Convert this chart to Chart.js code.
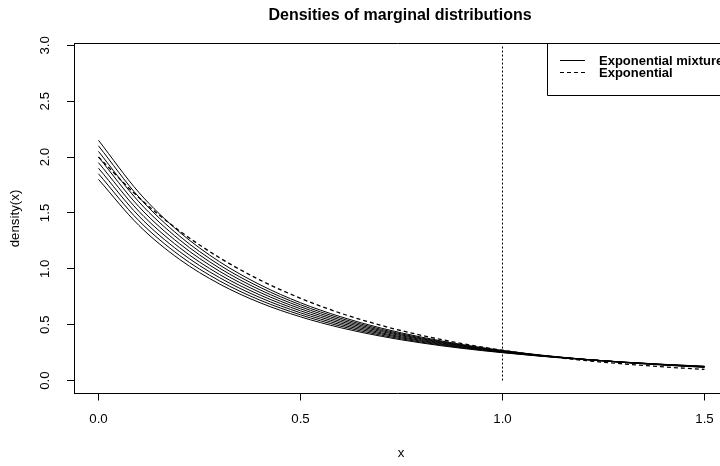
<!DOCTYPE html>
<html>
<head>
<meta charset="utf-8">
<script src="https://cdn.jsdelivr.net/npm/chart.js@4.4.0/dist/chart.umd.min.js"></script>
<style>
html,body{margin:0;padding:0;overflow:hidden;background:#fff;}
#wrap{width:720px;height:466px;position:relative;}
</style>
</head>
<body>
<div id="wrap"><canvas id="c" width="720" height="466"></canvas></div>
<script>
// ---- data ----
const xValues = [0, 0.1, 0.2, 0.3, 0.4, 0.5, 0.6, 0.7, 0.8, 0.9, 1.0, 1.1, 1.2, 1.3, 1.4, 1.5];
const mixture1 = [2.15, 1.683, 1.330, 1.062, 0.857, 0.696, 0.570, 0.469, 0.388, 0.322, 0.269, 0.226, 0.191, 0.162, 0.138, 0.118];
const mixture2 = [2.10, 1.641, 1.295, 1.033, 0.834, 0.678, 0.556, 0.458, 0.380, 0.317, 0.266, 0.224, 0.191, 0.162, 0.139, 0.120];
const mixture3 = [2.05, 1.599, 1.261, 1.005, 0.811, 0.660, 0.542, 0.448, 0.373, 0.313, 0.264, 0.223, 0.191, 0.163, 0.140, 0.121];
const mixture4 = [2.00, 1.556, 1.226, 0.977, 0.788, 0.642, 0.528, 0.438, 0.366, 0.308, 0.261, 0.222, 0.190, 0.163, 0.141, 0.122];
const mixture5 = [1.95, 1.514, 1.191, 0.948, 0.765, 0.624, 0.514, 0.427, 0.358, 0.303, 0.258, 0.220, 0.190, 0.164, 0.142, 0.124];
const mixture6 = [1.90, 1.472, 1.156, 0.920, 0.742, 0.606, 0.500, 0.417, 0.351, 0.298, 0.255, 0.219, 0.190, 0.164, 0.143, 0.125];
const mixture7 = [1.85, 1.430, 1.121, 0.891, 0.719, 0.588, 0.486, 0.406, 0.343, 0.293, 0.252, 0.217, 0.189, 0.165, 0.144, 0.127];
const mixture8 = [1.80, 1.388, 1.086, 0.863, 0.696, 0.570, 0.472, 0.396, 0.336, 0.288, 0.249, 0.216, 0.189, 0.165, 0.145, 0.128];
const exponential = [2.00, 1.637, 1.341, 1.098, 0.899, 0.736, 0.602, 0.493, 0.404, 0.331, 0.271, 0.222, 0.181, 0.149, 0.122, 0.0996];
const markerX = [1.0, 1.0];
const markerY = [0.0, 3.0];
const xTicks = [0, 0.5, 1.0, 1.5];
const yTicks = [0, 0.5, 1.0, 1.5, 2.0, 2.5, 3.0];
const titleText = 'Densities of marginal distributions';
const xTitle = 'x';
const yTitle = 'density(x)';
const legendLabels = ['Exponential mixture', 'Exponential'];

const FONT = '"Liberation Sans", Arial, Helvetica, sans-serif';
const FS = 13.3;
const mixtures = [mixture1, mixture2, mixture3, mixture4, mixture5, mixture6, mixture7, mixture8];
const toPts = (xs, ys) => xs.map((x, i) => ({x: x, y: ys[i]}));

const datasets = mixtures.map((m, i) => ({
  label: 'mix' + (i + 1),
  data: toPts(xValues, m),
  borderColor: '#000', borderWidth: 1, pointRadius: 0,
  cubicInterpolationMode: 'monotone', fill: false
}));
datasets.push({
  label: 'exp', data: toPts(xValues, exponential),
  borderColor: '#000', borderWidth: 1.3, borderDash: [4, 3], pointRadius: 0,
  cubicInterpolationMode: 'monotone', fill: false
});
datasets.push({
  label: 'marker', data: toPts(markerX, markerY),
  borderColor: '#000', borderWidth: 1, borderDash: [2, 2], pointRadius: 0, fill: false
});

const decor = {
  id: 'decor',
  afterDraw(chart) {
    const ctx = chart.ctx, ca = chart.chartArea;
    const xs = chart.scales.x, ys = chart.scales.y;
    ctx.save();
    ctx.strokeStyle = '#000'; ctx.lineWidth = 1; ctx.fillStyle = '#000';
    // top of box
    ctx.beginPath();
    ctx.moveTo(ca.left, 43.5); ctx.lineTo(ca.right + 20, 43.5);
    ctx.stroke();
    // title
    ctx.font = 'bold 16px ' + FONT;
    ctx.textAlign = 'center'; ctx.textBaseline = 'alphabetic';
    ctx.fillText(titleText, 400, 19.5);
    // x tick labels
    ctx.font = FS + 'px ' + FONT;
    xTicks.forEach(v => {
      ctx.textAlign = 'center'; ctx.textBaseline = 'alphabetic';
      ctx.fillText(v.toFixed(1), xs.getPixelForValue(v), 422.5);
    });
    // y tick labels rotated
    yTicks.forEach(v => {
      const y = ys.getPixelForValue(v);
      ctx.save(); ctx.translate(49, y); ctx.rotate(-Math.PI / 2);
      ctx.textAlign = 'center'; ctx.textBaseline = 'alphabetic';
      ctx.fillText(v.toFixed(1), 0, 0);
      ctx.restore();
    });
    // y title
    ctx.save(); ctx.translate(19, (ca.top + ca.bottom) / 2); ctx.rotate(-Math.PI / 2);
    ctx.textAlign = 'center'; ctx.textBaseline = 'alphabetic';
    ctx.fillText(yTitle, 0, 0);
    ctx.restore();
    // x title
    ctx.textAlign = 'center'; ctx.textBaseline = 'alphabetic';
    ctx.fillText(xTitle, 401, 457);
    // legend
    const lx = 547.5, ly = 43.5;
    ctx.beginPath(); ctx.rect(lx, ly, 200, 52); ctx.stroke();
    ctx.beginPath(); ctx.moveTo(560, 60.5); ctx.lineTo(585, 60.5); ctx.stroke();
    ctx.setLineDash([4, 3]);
    ctx.beginPath(); ctx.moveTo(560, 72.5); ctx.lineTo(585, 72.5); ctx.stroke();
    ctx.setLineDash([]);
    ctx.font = 'bold 13px ' + FONT;
    ctx.textAlign = 'left'; ctx.textBaseline = 'middle';
    ctx.fillText(legendLabels[0], 599, 61);
    ctx.fillText(legendLabels[1], 599, 73);
    ctx.restore();
  }
};

new Chart(document.getElementById('c'), {
  type: 'line',
  data: { datasets: datasets },
  plugins: [decor],
  options: {
    responsive: false, animation: false, devicePixelRatio: 1,
    layout: { padding: { top: 43.5, right: 0, bottom: 0, left: 0 } },
    plugins: { legend: { display: false }, title: { display: false }, tooltip: { enabled: false } },
    scales: {
      x: {
        type: 'linear', position: 'bottom', min: -0.06064, max: 1.5384,
        afterBuildTicks: s => { s.ticks = xTicks.map(v => ({ value: v })); },
        afterFit: s => { s.height = 72.5; },
        grid: { drawOnChartArea: false, drawTicks: true, tickLength: 7, color: '#000', lineWidth: 1 },
        border: { display: true, color: '#000', width: 1 },
        ticks: { display: false }
      },
      y: {
        type: 'linear', position: 'left', min: -0.116, max: 3.016,
        afterBuildTicks: s => { s.ticks = yTicks.map(v => ({ value: v })); },
        afterFit: s => { s.width = 74; },
        grid: { drawOnChartArea: false, drawTicks: true, tickLength: 7, color: '#000', lineWidth: 1 },
        border: { display: true, color: '#000', width: 1 },
        ticks: { display: false }
      }
    }
  }
});
</script>
</body>
</html>
